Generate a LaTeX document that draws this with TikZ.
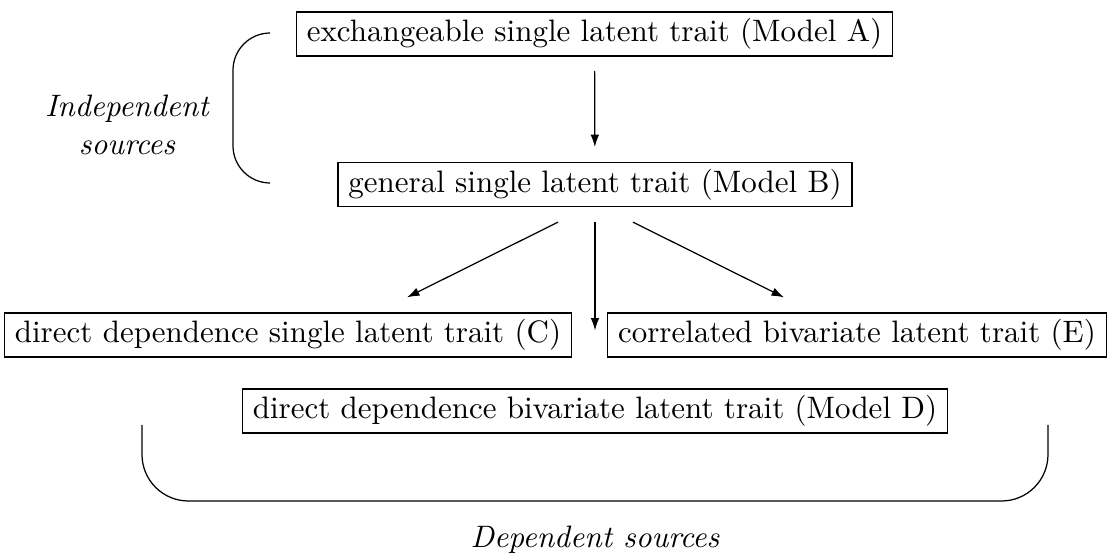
\documentclass[tikz,border=0pt]{standalone}
\usetikzlibrary{arrows.meta,calc}
\begin{document}
\begin{tikzpicture}[x=0.3226pt,y=-0.3226pt,
  model/.style={draw, inner xsep=3.33pt, inner ysep=2.1pt, text height=7.5pt, text depth=2.5pt, font=\fontsize{10}{12}\selectfont},
  arr/.style={-{Latex[length=4pt,width=2.8pt]}},
  lab/.style={font=\fontsize{10}{12}\selectfont\itshape, align=center}]
\useasboundingbox (0,0) rectangle (1114,559);
\node[model] (A) at (594.5,34) {exchangeable single latent trait (Model A)};
\node[model] (B) at (595,184.5) {general single latent trait (Model B)};
\node[model] (C) at (288,335) {direct dependence single latent trait (C)};
\node[model] (E) at (857,335) {correlated bivariate latent trait (E)};
\node[model] (D) at (595,411) {direct dependence bivariate latent trait (Model D)};
\draw[arr, shorten <=4.6pt, shorten >=4.8pt] (A) -- (B);
\draw[arr] ($(B.south)+(-37,15)$) -- ($(C.north)+(119,-15)$);
\draw[arr] ($(B.south)+(38,15)$) -- ($(E.north)+(-73,-15)$);
\draw[arr, shorten <=4.8pt, shorten >=18.7pt] (B) -- (D);
\draw[rounded corners=12pt] (270,33) -- (233,33) -- (233,183) -- (270,183);
\draw[rounded corners=15pt] (142,425) -- (142,501) -- (1048,501) -- (1048,425);
\node[lab] (indep) at (127,125) {Independent\\sources};
\node[lab] (dep) at (595,540) {Dependent sources};
\end{tikzpicture}
\end{document}
